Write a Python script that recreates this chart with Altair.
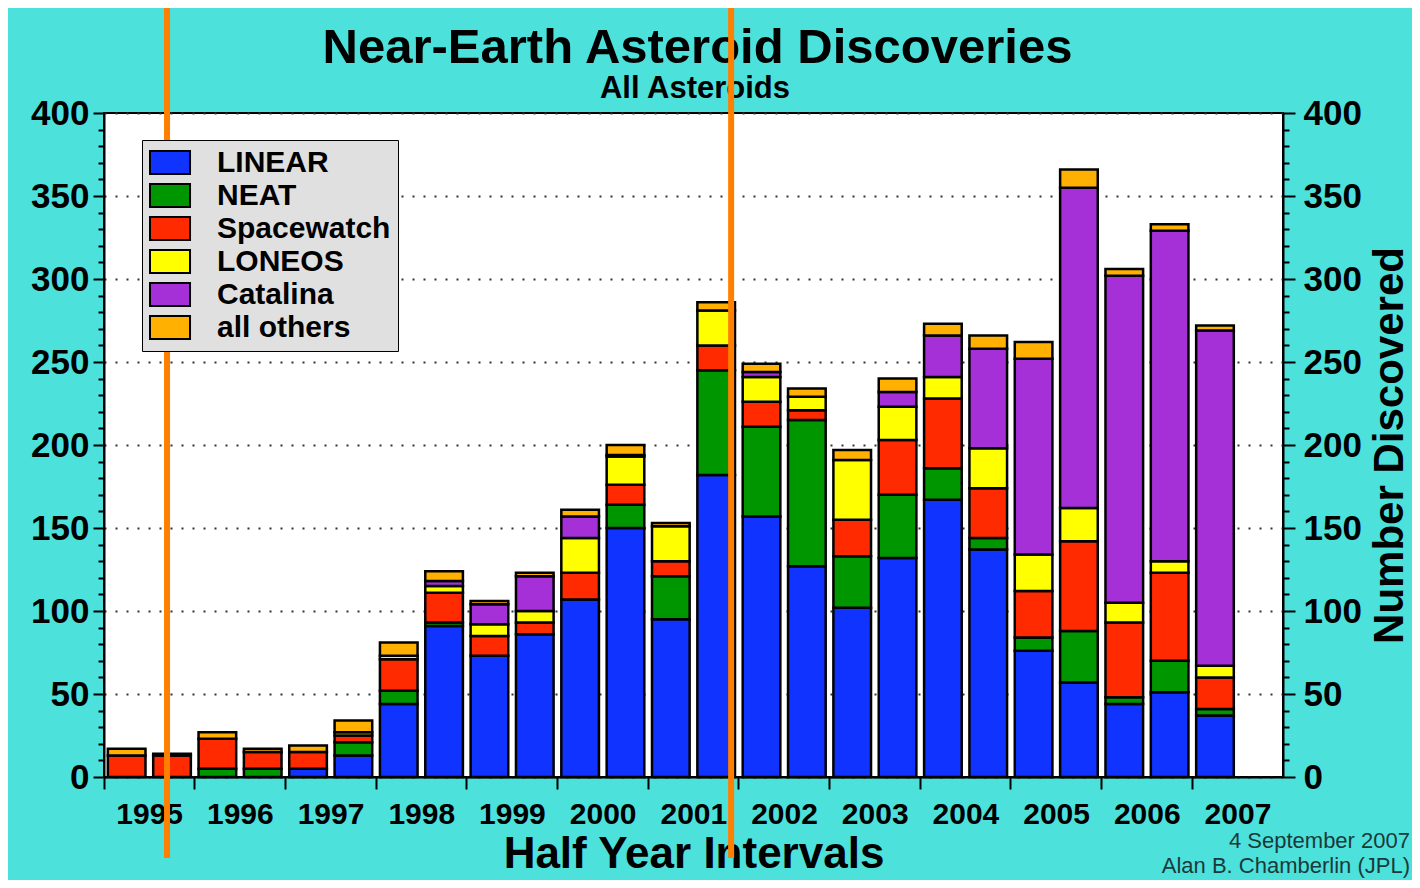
import altair as alt
import pandas as pd

# ---------------- data ----------------
slots = ["1995a", "1995b", "1996a", "1996b", "1997a", "1997b", "1998a", "1998b",
         "1999a", "1999b", "2000a", "2000b", "2001a", "2001b", "2002a", "2002b",
         "2003a", "2003b", "2004a", "2004b", "2005a", "2005b", "2006a", "2006b",
         "2007a"]
slot_domain = slots + ["2007b"]
year_ticks = [s for s in slot_domain if s.endswith("a")]

categories = ["LINEAR", "NEAT", "Spacewatch", "LONEOS", "Catalina", "all others"]
colors = ["#1133ff", "#009600", "#ff2a00", "#ffff00", "#a530d8", "#ffb000"]

linear = [0, 0, 0, 0, 5, 13, 44, 91, 73, 86, 107, 150, 95, 182, 157, 127, 102, 132, 167, 137, 76, 57, 44, 51, 37]
neat = [0, 0, 5, 5, 0, 8, 8, 2, 0, 0, 0, 14, 26, 63, 54, 88, 31, 38, 19, 7, 8, 31, 4, 19, 4]
spacewatch = [13, 13, 18, 10, 10, 4, 19, 18, 12, 7, 16, 12, 9, 15, 15, 6, 22, 33, 42, 30, 28, 54, 45, 53, 19]
loneos = [0, 0, 0, 0, 0, 2, 2, 4, 7, 7, 21, 17, 21, 21, 15, 8, 36, 20, 13, 24, 22, 20, 12, 7, 7]
catalina = [0, 0, 0, 0, 0, 0, 0, 3, 12, 21, 13, 1, 0, 0, 3, 0, 0, 9, 25, 60, 118, 193, 197, 199, 202]
others = [4, 1, 4, 2, 4, 7, 8, 6, 2, 2, 4, 6, 2, 5, 5, 5, 6, 8, 7, 8, 10, 11, 4, 4, 3]

major_ticks = list(range(0, 401, 50))
minor_ticks = [v for v in range(0, 401, 10) if v % 50]

marker_slots = ["1995b", "2001b"]
marker_band = [0.39, 0.83]

title_text = "Near-Earth Asteroid Discoveries"
subtitle_text = "All Asteroids"
credit = "4 September 2007\nAlan B. Chamberlin (JPL)"

# ---------------- build table ----------------
series = [linear, neat, spacewatch, loneos, catalina, others]
rows = []
for k, (cat, vals) in enumerate(zip(categories, series)):
    for s, v in zip(slots, vals):
        if v > 0:
            rows.append({"slot": s, "source": cat, "count": v, "k": k})
df = pd.DataFrame(rows)

F = "Liberation Sans"
yscale = alt.Scale(domain=[0, 400], nice=False, zero=True)
xscale = alt.Scale(domain=slot_domain, paddingInner=0, paddingOuter=0)

xaxis = alt.Axis(values=year_ticks, bandPosition=0,
                 labelExpr="substring(datum.value, 0, 4)", labelOffset=23,
                 labelAngle=0, labelFont=F, labelFontSize=30, labelFontWeight="bold",
                 labelColor="black", labelPadding=10, labelOverlap=False,
                 tickSize=12, tickWidth=2, tickColor="black",
                 domainColor="black", domainWidth=2, grid=False,
                 titleFont=F, titleFontSize=44, titleFontWeight="bold", titleColor="black",
                 titleY=55, titleBaseline="top")

left_major = alt.Axis(orient="left", values=major_ticks, tickSize=11, tickWidth=2,
                      tickColor="black", labelFont=F, labelFontSize=35,
                      labelFontWeight="bold", labelColor="black", labelPadding=4,
                      domainColor="black", domainWidth=2, grid=True,
                      gridDash=[2, 9], gridWidth=2, gridColor="#333333", title=None)
left_minor = alt.Axis(orient="left", values=minor_ticks, tickSize=6, tickWidth=2,
                      tickColor="black", labels=False, domain=False, grid=False, title=None)
right_major = alt.Axis(orient="right", values=major_ticks, tickSize=12, tickWidth=2,
                       tickColor="black", labelFont=F, labelFontSize=35,
                       labelFontWeight="bold", labelColor="black", labelPadding=8,
                       domainColor="black", domainWidth=2, grid=False,
                       title="Number Discovered", titleFont=F, titleFontSize=42,
                       titleFontWeight="bold", titleColor="black", titleAngle=270,
                       titleX=119, titleY=332, titleAlign="center",
                       titleBaseline="alphabetic")
right_minor = alt.Axis(orient="right", values=minor_ticks, tickSize=6, tickWidth=2,
                       tickColor="black", labels=False, domain=False, grid=False, title=None)

legend = alt.Legend(orient="none", legendX=38, legendY=27, title=None,
                    direction="vertical", fillColor="#e0e0e0", strokeColor="black",
                    padding=7, rowPadding=0,
                    symbolType="M-1,-0.8H1.76V0.8H-1Z", symbolSize=841,
                    symbolStrokeColor="black", symbolStrokeWidth=2, symbolOpacity=1,
                    labelFont=F, labelFontSize=30, labelFontWeight="bold",
                    labelColor="black", labelOffset=37, labelLimit=400)

bars = alt.Chart(df).mark_bar(stroke="black", strokeWidth=2.5,
                              width=alt.RelativeBandSize(0.83)).encode(
    x=alt.X("slot:N", scale=xscale, axis=xaxis, title="Half Year Intervals"),
    y=alt.Y("count:Q", stack="zero", scale=yscale, axis=left_major),
    color=alt.Color("source:N", scale=alt.Scale(domain=categories, range=colors),
                    legend=legend),
    order=alt.Order("k:Q", sort="ascending"),
)

axdf = pd.DataFrame({"v": [0, 400]})
ax_layers = []
for ax in (left_minor, right_major, right_minor):
    ax_layers.append(alt.Chart(axdf).mark_point(opacity=0).encode(
        y=alt.Y("v:Q", scale=yscale, axis=ax)))

rules = []
for s, b in zip(marker_slots, marker_band):
    rules.append(alt.Chart(pd.DataFrame({"slot": [s]})).mark_rule(
        color="#ff7f00", strokeWidth=6).encode(
        x=alt.X("slot:N", scale=xscale, bandPosition=b, axis=xaxis,
                title="Half Year Intervals"),
        y=alt.value(-105), y2=alt.value(745)))

title_layer = alt.Chart(pd.DataFrame({"t": [title_text]})).mark_text(
    align="center", baseline="alphabetic", font=F, fontSize=49, fontWeight="bold",
    color="black").encode(text="t:N", x=alt.value(593.5), y=alt.value(-50))
subtitle_layer = alt.Chart(pd.DataFrame({"t": [subtitle_text]})).mark_text(
    align="center", baseline="alphabetic", font=F, fontSize=31, fontWeight="bold",
    color="black").encode(text="t:N", x=alt.value(591), y=alt.value(-15))

credit_layer = alt.Chart(pd.DataFrame({"t": [credit]})).mark_text(
    align="right", baseline="alphabetic", font=F, fontSize=22, color="#1a3a3a",
    lineBreak="\n", lineHeight=25).encode(
    text="t:N", x=alt.value(1306), y=alt.value(735))

chart = alt.layer(bars, *ax_layers, title_layer, subtitle_layer, credit_layer,
                  *rules).resolve_axis(
    y="independent"
).properties(
    width=1179, height=664,
    autosize=alt.AutoSizeParams(type="none"),
    padding={"left": 96, "top": 105, "right": 129, "bottom": 103},
).configure(background="#4de1dc").configure_view(
    fill="white", stroke="black", strokeWidth=2)

chart.save("out.html", embed_options={"renderer": "svg", "actions": False})
